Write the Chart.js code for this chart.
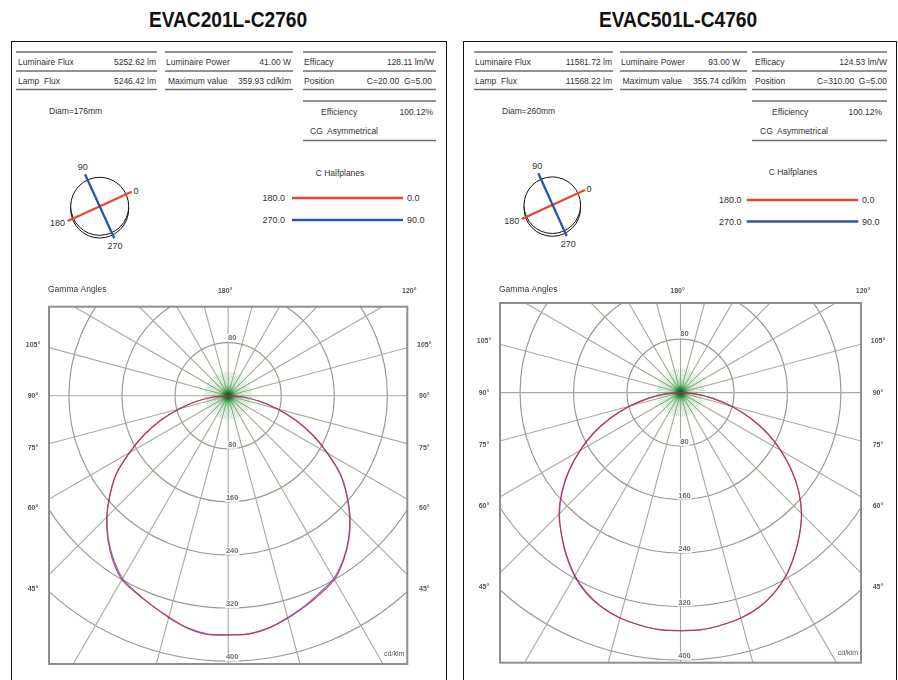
<!DOCTYPE html>
<html><head><meta charset="utf-8">
<script src="https://cdn.jsdelivr.net/npm/chart.js@4.4.1/dist/chart.umd.min.js"></script>
<style>
html,body{margin:0;padding:0;background:#fff;}
body{width:898px;height:680px;position:relative;overflow:hidden;font-family:"Liberation Sans",Arial,Helvetica,sans-serif;}
.title{position:absolute;top:7px;font-weight:bold;font-size:22px;line-height:26px;color:#111;white-space:nowrap;transform:scaleX(0.87);transform-origin:center;text-align:center;width:240px;}
.box{position:absolute;top:41px;height:660px;border:1.5px solid #111;border-bottom:none;box-sizing:border-box;}
canvas{position:absolute;}
svg{position:absolute;left:0;top:0;}
svg text{font-family:"Liberation Sans",Arial,sans-serif;fill:#333;}
</style></head><body>
<div class="box" style="left:11px;width:436px;"></div>
<div class="box" style="left:463px;width:434px;"></div>
<div class="title" style="left:108px;">EVAC201L-C2760</div>
<div class="title" style="left:558px;">EVAC501L-C4760</div>

<svg width="898" height="680" viewBox="0 0 898 680">
  <g stroke="#6e6e6e" stroke-width="1.5">
    <line x1="16" y1="52" x2="157" y2="52"/><line x1="16" y1="71" x2="157" y2="71"/><line x1="16" y1="89.5" x2="157" y2="89.5"/>
    <line x1="165" y1="52" x2="293" y2="52"/><line x1="165" y1="71" x2="293" y2="71"/><line x1="165" y1="89.5" x2="293" y2="89.5"/>
    <line x1="303" y1="52" x2="436" y2="52"/><line x1="303" y1="71" x2="436" y2="71"/><line x1="303" y1="89.5" x2="436" y2="89.5"/>
    <line x1="303" y1="101" x2="436" y2="101"/><line x1="303" y1="140.5" x2="436" y2="140.5"/>
    <line x1="474" y1="52" x2="613" y2="52"/><line x1="474" y1="71" x2="613" y2="71"/><line x1="474" y1="89.5" x2="613" y2="89.5"/>
    <line x1="620" y1="52" x2="747" y2="52"/><line x1="620" y1="71" x2="747" y2="71"/><line x1="620" y1="89.5" x2="747" y2="89.5"/>
    <line x1="752" y1="52" x2="887" y2="52"/><line x1="752" y1="71" x2="887" y2="71"/><line x1="752" y1="89.5" x2="887" y2="89.5"/>
    <line x1="752" y1="101" x2="887" y2="101"/><line x1="752" y1="140.5" x2="887" y2="140.5"/>
  </g>
  <g font-size="8.5" dominant-baseline="central">
    <text x="18" y="62">Luminaire Flux</text><text x="156" y="62" text-anchor="end">5252.62 lm</text>
    <text x="166" y="62">Luminaire Power</text><text x="291" y="62" text-anchor="end">41.00 W</text>
    <text x="304" y="62">Efficacy</text><text x="434" y="62" text-anchor="end">128.11 lm/W</text>
    <text x="18" y="81" xml:space="preserve">Lamp  Flux</text><text x="156" y="81" text-anchor="end">5246.42 lm</text>
    <text x="168" y="80.5">Maximum value</text><text x="291" y="81" text-anchor="end">359.93 cd/klm</text>
    <text x="304" y="81">Position</text><text x="432" y="81" text-anchor="end" xml:space="preserve">C=20.00  G=5.00</text>
    <text x="49" y="111">Diam=176mm</text>
    <text x="321" y="112">Efficiency</text><text x="433" y="112" text-anchor="end">100.12%</text>
    <text x="310" y="131" xml:space="preserve">CG  Asymmetrical</text>

    <text x="475" y="62">Luminaire Flux</text><text x="612" y="62" text-anchor="end">11581.72 lm</text>
    <text x="621" y="62">Luminaire Power</text><text x="740" y="62" text-anchor="end">93.00 W</text>
    <text x="755" y="62">Efficacy</text><text x="887" y="62" text-anchor="end">124.53 lm/W</text>
    <text x="475" y="81" xml:space="preserve">Lamp  Flux</text><text x="612" y="81" text-anchor="end">11568.22 lm</text>
    <text x="622.5" y="80.5">Maximum value</text><text x="746" y="81" text-anchor="end">355.74 cd/klm</text>
    <text x="755" y="81">Position</text><text x="887" y="81" text-anchor="end" xml:space="preserve">C=310.00  G=5.00</text>
    <text x="502" y="111">Diam=260mm</text>
    <text x="772" y="112">Efficiency</text><text x="882" y="112" text-anchor="end">100.12%</text>
    <text x="760" y="131" xml:space="preserve">CG  Asymmetrical</text>
  </g>

  <g fill="#fff" stroke="#111" stroke-width="1">
    <circle cx="99.7" cy="209" r="29"/><circle cx="99.7" cy="206.3" r="29"/>
    <circle cx="552.3" cy="208" r="28.3"/><circle cx="552.3" cy="205.2" r="28.3"/>
  </g>
  <g stroke-width="2.3" stroke-linecap="butt">
    <line x1="67.7" y1="221" x2="131.7" y2="191.7" stroke="#e8452f"/>
    <line x1="85" y1="174.3" x2="114.3" y2="238.3" stroke="#2d55a6"/>
    <line x1="521.7" y1="219" x2="585" y2="190" stroke="#e8452f"/>
    <line x1="538.3" y1="173.3" x2="566.7" y2="236" stroke="#2d55a6"/>
  </g>
  <g font-size="9" dominant-baseline="central" text-anchor="middle">
    <text x="82.7" y="167">90</text><text x="136" y="191">0</text><text x="57.5" y="222.5">180</text><text x="115" y="246">270</text>
    <text x="537.3" y="165.5">90</text><text x="589" y="189">0</text><text x="511.7" y="220.5">180</text><text x="568.3" y="244">270</text>
  </g>

  <g font-size="9" dominant-baseline="central">
    <text x="340" y="173" text-anchor="middle" font-size="8.5">C Halfplanes</text>
    <text x="285" y="198" text-anchor="end">180.0</text><text x="407" y="198">0.0</text>
    <text x="285" y="220" text-anchor="end">270.0</text><text x="407" y="220">90.0</text>
    <text x="793" y="172" text-anchor="middle" font-size="8.5">C Halfplanes</text>
    <text x="741.5" y="200" text-anchor="end">180.0</text><text x="862" y="200">0.0</text>
    <text x="741.5" y="221.5" text-anchor="end">270.0</text><text x="862" y="221.5">90.0</text>
  </g>
  <g stroke-width="2.5">
    <line x1="292" y1="198" x2="403" y2="198" stroke="#e8452f"/>
    <line x1="292" y1="220" x2="403" y2="220" stroke="#2d55a6"/>
    <line x1="746.7" y1="200" x2="858.3" y2="200" stroke="#e8452f"/>
    <line x1="746.7" y1="221.5" x2="858.3" y2="221.5" stroke="#2d55a6"/>
  </g>
</svg>

<canvas id="c1" width="432" height="400" style="left:12px;top:280px;"></canvas>
<canvas id="c2" width="430" height="400" style="left:465px;top:280px;"></canvas>

<script>
// ---- data (cd/klm) ----
const gammaAngles = [0,5,10,15,20,25,30,35,40,45,50,55,60,65,70,75,80,85,90];

const evac201_C0   = [360,360,355,347,338,329,320,303,283,260,234,207,173,141,109,77,48,22,0];
const evac201_C180 = [360,361,355,345,336,328,320,303,282,259,233,206,172,140,108,76,48,22,0];
const evac201_C90  = [360,360,355,346,337,327,318,302,282,259,233,206,172,141,109,77,48,22,0];
const evac201_C270 = [360,360,355,346,336,327,318,301,281,258,232,206,172,140,108,76,48,22,0];

const evac501_C0   = [356,356,353,349,342,331,316,297,277,256,231,203,173,143,111,79,48,22,0];
const evac501_C180 = [356,356,353,349,342,331,316,297,277,257,232,204,174,144,112,80,48,22,0];
const evac501_C90  = [356,356,353,349,342,331,316,297,277,256,231,203,173,143,111,79,48,22,0];
const evac501_C270 = [356,356,353,349,342,332,317,298,277,256,231,203,173,143,111,79,48,22,0];

const intensityRings = [80,160,240,320,400];
const ringLabelsUp = [80];
const sideGammaTicks = [45,60,75,90,105];
const topGammaTicks = [180,120];
const radialStep = 15;

// ---- helpers ----
const rad = d => d*Math.PI/180;
function halfplanePoints(leftVals, rightVals){
  const pts=[];
  for(let i=gammaAngles.length-1;i>=0;i--){
    const g=rad(gammaAngles[i]);
    pts.push({x:-leftVals[i]*Math.sin(g), y:-leftVals[i]*Math.cos(g)});
  }
  for(let i=1;i<gammaAngles.length;i++){
    const g=rad(gammaAngles[i]);
    pts.push({x:rightVals[i]*Math.sin(g), y:-rightVals[i]*Math.cos(g)});
  }
  return pts;
}

const polarGrid = {
  id:'polarGrid',
  beforeDatasetsDraw(chart){
    const {ctx, chartArea:a, scales:{x, y}} = chart;
    const cx=x.getPixelForValue(0), cy=y.getPixelForValue(0);
    const k=x.getPixelForValue(1)-cx;
    ctx.save();
    ctx.fillStyle='#fff'; ctx.fillRect(a.left,a.top,a.width,a.height);
    ctx.beginPath(); ctx.rect(a.left,a.top,a.width,a.height); ctx.clip();
    ctx.strokeStyle='#9a9a94'; ctx.lineWidth=1.2;
    intensityRings.forEach(r=>{ctx.beginPath(); ctx.arc(cx,cy,r*k,0,Math.PI*2); ctx.stroke();});
    ctx.strokeStyle='#a6aa96'; ctx.lineWidth=1.1;
    for(let g=0; g<360; g+=radialStep){
      const t=rad(g);
      ctx.beginPath(); ctx.moveTo(cx,cy); ctx.lineTo(cx+Math.sin(t)*2000, cy+Math.cos(t)*2000); ctx.stroke();
    }
    ctx.strokeStyle='rgba(70,170,80,0.3)'; ctx.lineWidth=1;
    for(let g=0; g<360; g+=5){
      const t=rad(g);
      ctx.beginPath(); ctx.moveTo(cx,cy); ctx.lineTo(cx+Math.sin(t)*24, cy+Math.cos(t)*24); ctx.stroke();
    }
    const grd=ctx.createRadialGradient(cx,cy,0,cx,cy,13);
    grd.addColorStop(0,'rgba(10,70,25,1)');
    grd.addColorStop(0.3,'rgba(30,120,45,0.85)');
    grd.addColorStop(0.65,'rgba(90,190,100,0.35)');
    grd.addColorStop(1,'rgba(150,220,150,0)');
    ctx.fillStyle=grd; ctx.beginPath(); ctx.arc(cx,cy,13,0,Math.PI*2); ctx.fill();
    ctx.font='bold 7.5px "Liberation Sans", Arial, sans-serif';
    ctx.textAlign='center'; ctx.textBaseline='middle';
    const lab=(txt,px,py)=>{
      const w=ctx.measureText(txt).width+2;
      ctx.fillStyle='rgba(255,255,255,0.85)'; ctx.fillRect(px-w/2,py-4,w,8);
      ctx.fillStyle='#707070'; ctx.fillText(txt,px,py);
    };
    ringLabelsUp.forEach(r=>lab(String(r), cx+4, y.getPixelForValue(r)-5));
    intensityRings.forEach(r=>lab(String(r), cx+4, y.getPixelForValue(-r)-4));
    ctx.restore();
  },
  afterDatasetsDraw(chart){
    const {ctx, chartArea:a, scales:{x, y}} = chart;
    const cx=x.getPixelForValue(0);
    ctx.save();
    ctx.strokeStyle='#8e8e8e'; ctx.lineWidth=2;
    ctx.strokeRect(a.left,a.top,a.width,a.height);
    ctx.fillStyle='#555';
    ctx.font='bold 7px "Liberation Sans", Arial, sans-serif';
    ctx.textBaseline='middle'; ctx.textAlign='center';
    const xmax=x.max;
    sideGammaTicks.forEach(g=>{
      const t=rad(g);
      const yv=-xmax*Math.cos(t)/Math.sin(t);
      const off = g>90 ? -3 : (g===90 ? 0 : 4+(75-g)/3);
      const py=y.getPixelForValue(yv)+off;
      ctx.fillText(g+'°', a.left-16, py);
      ctx.fillText(g+'°', a.right+17, py);
    });
    topGammaTicks.forEach(g=>{
      const px = g===180 ? cx-3 : a.right+2;
      ctx.fillText(g+'°', px, 10.7);
    });
    ctx.font='8.5px "Liberation Sans", Arial, sans-serif';
    ctx.fillStyle='#333'; ctx.textAlign='left';
    ctx.fillText('Gamma Angles', a.left-1, 9.5);
    ctx.font='7px "Liberation Sans", Arial, sans-serif';
    ctx.fillStyle='#555'; ctx.textAlign='right';
    ctx.fillText('cd/klm', a.right-3, a.bottom-10);
    ctx.restore();
  }
};

function makeChart(id, c0, c180, c90, c270, pad){
  return new Chart(document.getElementById(id), {
    type:'scatter',
    data:{datasets:[
      {label:'C0-C180', data:halfplanePoints(c180,c0), showLine:true, borderColor:'rgba(200,40,75,0.85)', borderWidth:1.2, pointRadius:0, tension:0.35, fill:false},
      {label:'C90-C270', data:halfplanePoints(c270,c90), showLine:true, borderColor:'rgba(60,60,185,0.7)', borderWidth:1.2, pointRadius:0, tension:0.35, fill:false}
    ]},
    options:{
      responsive:false, animation:false, devicePixelRatio:1,
      layout:{padding:pad},
      scales:{
        x:{type:'linear', min:-270, max:270, display:false},
        y:{type:'linear', min:-404, max:134, display:false}
      },
      plugins:{legend:{display:false}, tooltip:{enabled:false}}
    },
    plugins:[polarGrid]
  });
}

makeChart('c1', evac201_C0, evac201_C180, evac201_C90, evac201_C270, {left:37, right:36.7, top:26.7, bottom:16});
makeChart('c2', evac501_C0, evac501_C180, evac501_C90, evac501_C270, {left:35, right:34, top:23, bottom:17.3});
</script>
</body></html>
